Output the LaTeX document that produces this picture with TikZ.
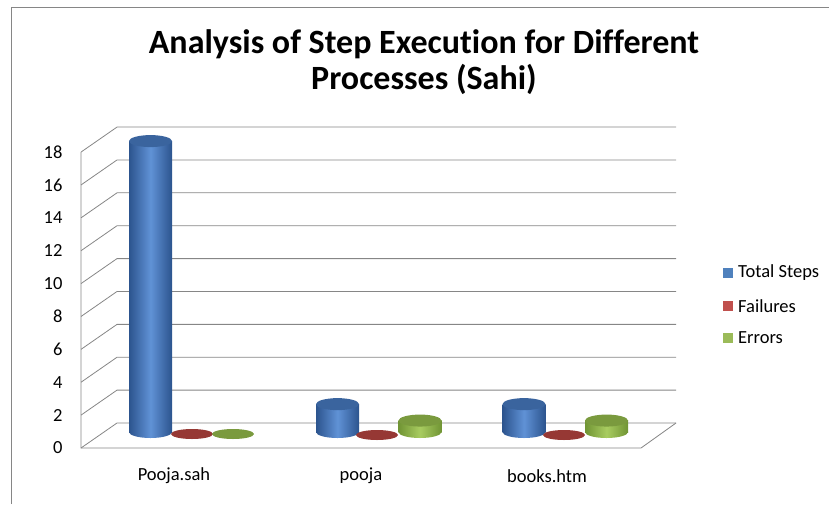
\documentclass[tikz,border=0pt]{standalone}
\usepackage{fontspec}
\setmainfont{Carlito}[Ligatures={NoCommon}]
\definecolor{gridgray}{RGB}{134,134,134}
\definecolor{blueedge}{RGB}{44,84,142}
\definecolor{bluemid}{RGB}{96,146,214}
\definecolor{bluetop}{RGB}{58,100,158}
\definecolor{greenedge}{RGB}{112,148,52}
\definecolor{greenmid}{RGB}{168,204,96}
\definecolor{greentop}{RGB}{122,154,62}
\definecolor{reddisc}{RGB}{150,56,52}
\definecolor{legblue}{RGB}{79,129,189}
\definecolor{legred}{RGB}{192,80,77}
\definecolor{leggreen}{RGB}{155,187,89}
% 圆柱：#1 中心x，#2 数值，#3 边色，#4 中色，#5 顶色
\newcommand{\zhu}[5]{%
  \pgfmathsetmacro\ytop{\yz-\dv*#2+14}%
  \shade[left color=#3, right color=#3, middle color=#4] (#1,432) ellipse (21.5 and 6);
  \shade[left color=#3, right color=#3, middle color=#4] (#1-21.5,\ytop) rectangle (#1+21.5,432);
  \fill[#5] (#1,\ytop) ellipse (21.5 and 6);
}
\begin{document}
\begin{tikzpicture}[x=1pt,y=-1pt]
                \useasboundingbox (0,0) rectangle (829,504);
                \def\yz{423} % 后墙零线
                \def\dv{16.44} % 每单位高度
                \draw[gridgray] (11,504) -- (11,7) -- (829,7); % 外框
                \node[font=\bfseries\fontsize{34}{36}\selectfont, align=center] (biaoti) at (424,62) {Analysis of Step Execution for Different\\Processes (Sahi)}; % 标题
                \foreach \v in {0,2,...,18} {
                    \pgfmathsetmacro\y{\yz-\dv*\v}
                    \draw[gridgray, line width=0.8pt] (81,\y+25) -- (117,\y) -- (676,\y); % 网格线
                    \node[anchor=east, font=\fontsize{18.5}{20}\selectfont] (zuobiao\v) at (66,\y+25) {\v}; % 刻度
                }
                \draw[gridgray, line width=0.8pt] (81,152) -- (81,448) -- (641,448) -- (676,\yz); % 地面与侧墙
                \zhu{150.5}{18}{blueedge}{bluemid}{bluetop} % Pooja.sah
                \fill[reddisc] (192,434) ellipse (21 and 5);
                \fill[greentop] (233,434) ellipse (21 and 5);
                \zhu{337.5}{2}{blueedge}{bluemid}{bluetop} % pooja
                \fill[reddisc] (377,435) ellipse (21 and 5);
                \zhu{420}{1}{greenedge}{greenmid}{greentop}
                \zhu{524}{2}{blueedge}{bluemid}{bluetop} % books.htm
                \fill[reddisc] (564,435) ellipse (21 and 5);
                \zhu{606.5}{1}{greenedge}{greenmid}{greentop}
                \node[font=\fontsize{18.5}{20}\selectfont] (lei1) at (174,476) {Pooja.sah}; % 类别
                \node[font=\fontsize{18.5}{20}\selectfont] (lei2) at (361,476) {pooja};
                \node[font=\fontsize{18.5}{20}\selectfont] (lei3) at (547,476) {books.htm};
                \fill[legblue] (723,268) rectangle (733,278); % 图例
                \fill[legred] (723,301) rectangle (733,311);
                \fill[leggreen] (723,333) rectangle (733,343);
                \node[anchor=west, font=\fontsize{18.5}{20}\selectfont, inner sep=0pt] (tuli1) at (738,273) {Total Steps};
                \node[anchor=west, font=\fontsize{18.5}{20}\selectfont, inner sep=0pt] (tuli2) at (738,306) {Failures};
                \node[anchor=west, font=\fontsize{18.5}{20}\selectfont, inner sep=0pt] (tuli3) at (738,338) {Errors};
            \end{tikzpicture}
\end{document}
